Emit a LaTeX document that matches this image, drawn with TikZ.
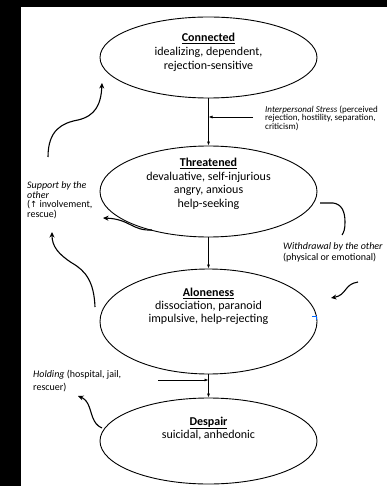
\documentclass[tikz,border=0pt]{standalone}
\usepackage{fontspec}
\setmainfont{Carlito}
\newfontfamily\symfont{DejaVu Sans}
\usetikzlibrary{arrows.meta,shapes.geometric}
\begin{document}
\begin{tikzpicture}[x=1pt,y=-1pt,
  state/.style={draw, line width=0.9pt, ellipse, minimum width=217pt, minimum height=#1, inner sep=0pt},
  % multi-line nodes: the base anchor sits on the last line
  statetext/.style={anchor=base, align=center, inner sep=0pt},
  note/.style={anchor=base west, align=left, inner sep=0pt},
  tight/.style={execute at begin node={\lineskiplimit=-20pt\lineskip=0pt}},
  feed/.style={line width=0.7pt, -{Latex[length=4pt,width=3pt]}},
  loop/.style={line width=1.1pt, -{Stealth[length=5.5pt,width=5pt]}},
  bracket/.style={line width=1.1pt}
]
\useasboundingbox (0,0) rectangle (387,486);
\fill[white] (0,0) rectangle (387,486);

% the four states
\node[state=81pt]  (conn) at (208.5,57.5) {};
\node[state=91pt]  (thr)  at (208.5,191.5) {};
\node[state=105pt] (alo)  at (208.5,321.5) {};
\node[state=86pt]  (desp) at (208.5,441) {};

\node[statetext, font=\fontsize{12}{14}\selectfont] (conntxt) at (208.5,69.5) {\underline{\textbf{Connected}}\\idealizing, dependent,\\rejection-sensitive};
\node[statetext, font=\fontsize{12}{13.7}\selectfont] (thrtxt) at (208.5,207.5) {\underline{\textbf{Threatened}}\\devaluative, self-injurious\\angry, anxious\\help-seeking};
\node[statetext, font=\fontsize{12}{13}\selectfont] (alotxt) at (208.5,322.5) {\underline{\textbf{Aloneness}}\\dissociation, paranoid\\impulsive, help-rejecting};
\node[statetext, font=\fontsize{12}{12}\selectfont] (desptxt) at (208.5,438.5) {\underline{\textbf{Despair}}\\suicidal, anhedonic};

% downward progression
\draw[feed] (conn.south) -- (thr.north);
\draw[feed] (thr.south) -- (alo.north);
\draw[feed] (alo.south) -- (desp.north);

% outside influences
\node[note, tight, font=\fontsize{9}{8.5}\selectfont] (stress) at (265,129.5) {\textit{Interpersonal Stress} (perceived\\rejection, hostility, separation,\\criticism)};
\coordinate (stressin) at (253,117);
\draw[feed] (stressin) -- (stressin -| conn.south);

\node[note, font=\fontsize{10}{13}\selectfont] (holding) at (33,390) {\textit{Holding} (hospital, jail,\\rescuer)};
\coordinate (holdin) at (158,380);
\draw[feed] (holdin) -- (holdin -| alo.south);

\node[note, font=\fontsize{10}{11}\selectfont] (withdraw) at (283,260) {\textit{Withdrawal by the other}\\(physical or emotional)};

\node[note, tight, font=\fontsize{10}{9.5}\selectfont] (support) at (27,198) {\textit{Support by the}\\\textit{other}};
\node[note, tight, font=\fontsize{10}{9.5}\selectfont] (supportb) at (27,217.5) {({\symfont\fontsize{8.5}{6}\selectfont ↑} involvement,\\rescue)};

% curved arrows
\coordinate (s1a) at (48,157);
\coordinate (s1b) at (102,83);
\draw[loop] (s1a) .. controls (48,130) and (62,123) .. (78,120) .. controls (95,116) and (101,105) .. (s1b);

\coordinate (s2a) at (152,230);
\coordinate (s2b) at (103,218);
\draw[loop] (s2a) .. controls (132,231) and (130,219) .. (s2b);

\coordinate (s3a) at (95,307);
\coordinate (s3b) at (52,232);
\draw[loop] (s3a) .. controls (94,282) and (86,271) .. (72,263) .. controls (58,254) and (52,246) .. (s3b);

\coordinate (w1) at (320,203);
\coordinate (w2) at (342,235);
\draw[bracket] (w1) -- (333,203) .. controls (342,204) and (345,212) .. (345,222) .. controls (345,229) and (344,232) .. (w2);

\coordinate (w3) at (358,282);
\coordinate (w4) at (331,298);
\draw[loop] (w3) .. controls (344,284) and (347,295) .. (w4);

\coordinate (h1) at (102,428);
\coordinate (h2) at (78,396);
\draw[loop] (h1) .. controls (92,424) and (92,412) .. (88,404) .. controls (86,400) and (83,398) .. (h2);

% small blue mark on the edge of the third state
\draw[blue!60!cyan, line width=0.6pt] (312,316) -- (316,316) -- (316,319.5);

% frame edges
\fill[black] (0,0) rectangle (21,486);
\fill[black] (0,0) rectangle (387,7);
\end{tikzpicture}
\end{document}
